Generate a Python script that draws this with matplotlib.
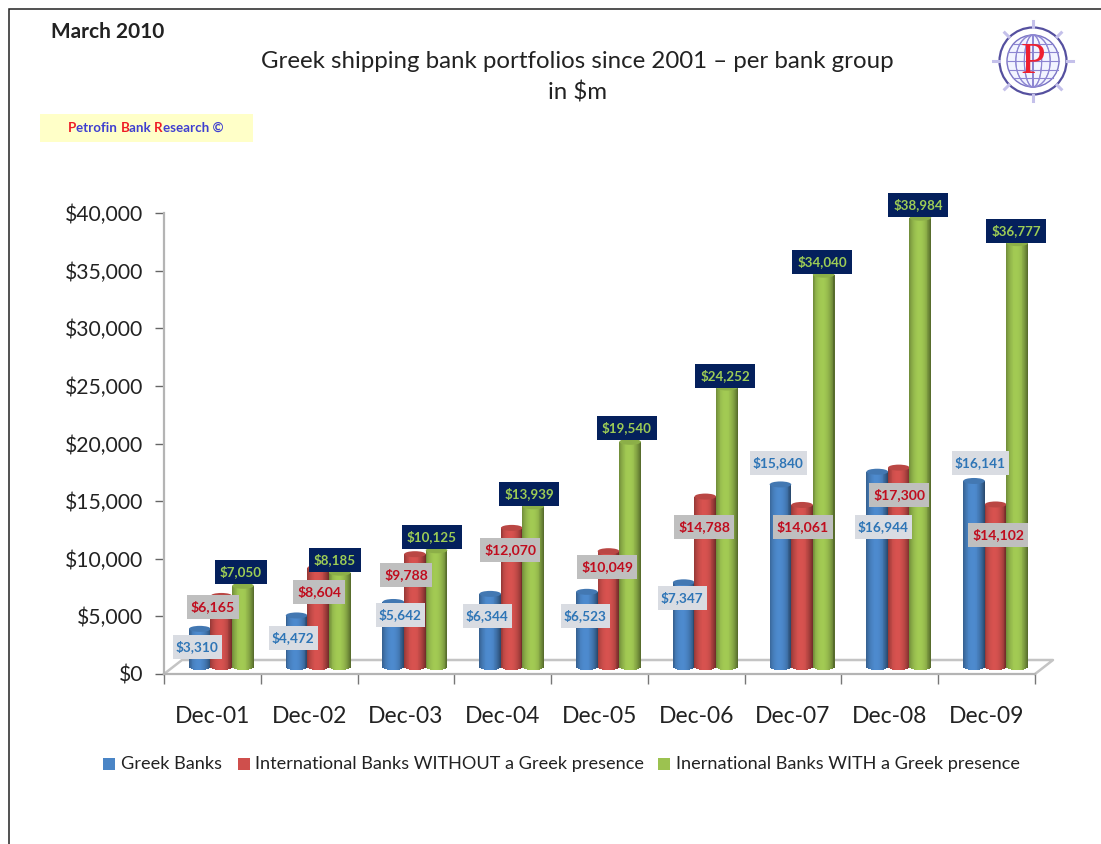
#!/usr/bin/env python3
import numpy as np
import matplotlib
matplotlib.use('Agg')
import matplotlib.pyplot as plt
from matplotlib.patches import Rectangle, Ellipse, Circle
from matplotlib.transforms import ScaledTranslation
from matplotlib.ticker import FuncFormatter
from matplotlib.colors import to_rgb

plt.rcParams['font.family'] = ['Lato', 'DejaVu Sans']

W, H = 1101, 844
DPI = 100

periods = ['Dec-01', 'Dec-02', 'Dec-03', 'Dec-04', 'Dec-05', 'Dec-06', 'Dec-07', 'Dec-08', 'Dec-09']
greek_banks = [3310, 4472, 5642, 6344, 6523, 7347, 15840, 16944, 16141]
intl_without = [6165, 8604, 9788, 12070, 10049, 14788, 14061, 17300, 14102]
intl_with = [7050, 8185, 10125, 13939, 19540, 24252, 34040, 38984, 36777]
y_ticks = [0, 5000, 10000, 15000, 20000, 25000, 30000, 35000, 40000]

# label centres in pixels, one list per series
greek_pos = [(197, 647), (293, 638), (400, 615), (487, 616), (585, 616),
             (682, 598), (778, 463), (883, 527), (980, 463)]
without_pos = [(213, 607), (319, 592), (406, 575), (510, 550), (607, 567),
               (704, 527), (803, 527), (899, 495), (998, 535)]
with_pos = [(241, 572), (335, 560), (432, 537), (529, 494), (627, 428),
            (725, 376), (822, 262), (918, 205), (1016, 231)]

BLUE, RED, GREEN = '#4a85c6', '#cf4f4c', '#9cc250'
GREY = '#b4b4b4'
TEXT = '#222222'


def make_layer(zorder):
    # full-figure axes measured in pixels, y pointing down
    layer = fig.add_axes([0, 0, 1, 1], zorder=zorder)
    layer.set_xlim(0, W)
    layer.set_ylim(H, 0)
    layer.axis('off')
    layer.patch.set_alpha(0)
    return layer


def draw_cylinder(ax, tr, xc, value, width, color, z):
    base = np.array(to_rgb(color))
    cap = 3 * 40000 / 461  # half height of the end ellipses in data units
    n = 24
    edges = np.linspace(-1, 1, n + 1)
    for u0, u1 in zip(edges[:-1], edges[1:]):
        u = (u0 + u1) / 2
        shade = base * (1.04 - 0.42 * abs(u + 0.1) ** 2.2)
        low = -cap * np.sqrt(1 - u ** 2)
        ax.bar(xc + u * width / 2, value - low, width / n * 1.3, bottom=low,
               color=np.clip(shade, 0, 1), linewidth=0, antialiased=False,
               transform=tr, zorder=z, clip_on=False)
    ax.add_patch(Ellipse((xc, value), width, cap * 2, facecolor=base * 0.9,
                         edgecolor='none', transform=tr, zorder=z + 0.1, clip_on=False))


def draw_label(layer, pos, value, extra_w, face, color, size):
    x, y = pos
    text = f'${value:,}'
    box_w = 8 * len(text) + extra_w
    layer.add_patch(Rectangle((x - box_w / 2, y - 12), box_w, 24, facecolor=face,
                              edgecolor='none', zorder=5))
    layer.text(x, y, text, color=color, fontsize=size, fontweight='bold',
               ha='center', va='center', zorder=6)


fig = plt.figure(figsize=(W / DPI, H / DPI), dpi=DPI, facecolor='white')
under = make_layer(0)
over = make_layer(3)

# page frame
over.plot([9, 9, W], [H, 9, 9], color='#222222', lw=1.1, solid_joinstyle='miter')

# floor of the chart
under.plot([164, 182, 1053, 1035], [674, 660, 660, 674], color='#c4c4c4', lw=1.8)

ax = fig.add_axes([164 / W, 1 - 674 / H, (1035 - 164) / W, (674 - 213) / H], zorder=1)
ax.patch.set_alpha(0)
offset = ScaledTranslation(9 / DPI, 7 / DPI, fig.dpi_scale_trans)
bar_tr = ax.transData + offset

bar_w = 21.6 / 96.8
for i in range(len(periods)):
    xc = i + 0.5
    for j, (vals, col) in enumerate(zip([greek_banks, intl_without, intl_with], [BLUE, RED, GREEN])):
        draw_cylinder(ax, bar_tr, xc + (j - 1) * bar_w, vals[i], bar_w, col, 3 + j)

ax.set_xlim(0, len(periods))
ax.set_ylim(0, 40000)
ax.set_yticks(y_ticks)
ax.yaxis.set_major_formatter(FuncFormatter(lambda v, p: f'${int(v):,}'))
ax.set_xticks(range(len(periods) + 1))
ax.set_xticklabels([])
ax.set_xticks(np.arange(len(periods)) + 0.5, minor=True)
ax.set_xticklabels(periods, minor=True)
ax.tick_params(axis='y', length=6.5, width=1, color='#666666', pad=8.5, labelsize=15.2, labelcolor=TEXT)
ax.tick_params(axis='x', which='major', length=7, width=1, color='#777777')
ax.tick_params(axis='x', which='minor', length=0, pad=23, labelsize=16.5, labelcolor=TEXT)
for side in ['top', 'right']:
    ax.spines[side].set_visible(False)
for side in ['left', 'bottom']:
    ax.spines[side].set_color(GREY)
    ax.spines[side].set_linewidth(1.6)

for i in range(len(periods)):
    draw_label(over, greek_pos[i], greek_banks[i], 1, '#d9dce2', '#2e75b6', 9.8)
    draw_label(over, without_pos[i], intl_without[i], 4, '#bfbfbf', '#c00d1e', 10.1)
    draw_label(over, with_pos[i], intl_with[i], 4, '#04205c', '#9dcc55', 9.6)

# heading
over.text(51, 32, 'March 2010', fontsize=15, fontweight='bold', color=TEXT, va='center')
over.text(577.5, 62, 'Greek shipping bank portfolios since 2001 \u2013 per bank group',
          fontsize=17.25, color=TEXT, ha='center', va='center')
over.text(578, 93, 'in $m', fontsize=17.25, color=TEXT, ha='center', va='center')

# research tag, coloured letter by letter
over.add_patch(Rectangle((40, 114), 213, 28, facecolor='#ffffc8', edgecolor='none'))
renderer = fig.canvas.get_renderer()
tag_parts = [('P', '#ee1c25'), ('etrofin ', '#3f3fd0'), ('B', '#ee1c25'), ('ank ', '#3f3fd0'),
             ('R', '#ee1c25'), ('esearch \u00a9', '#3f3fd0')]
cursor = 68
for part, col in tag_parts:
    t = over.text(cursor, 128, part.replace(' ', '\u00a0'), fontsize=9.6, fontweight='bold',
                  color=col, va='center')
    cursor = over.transData.inverted().transform(t.get_window_extent(renderer))[1, 0]

# globe logo
cx, cy = 1033, 61
for ang in np.arange(0, 360, 45):
    c, s = np.cos(np.radians(ang)), np.sin(np.radians(ang))
    over.plot([cx + 34 * c, cx + 40 * c], [cy + 34 * s, cy + 40 * s], color='#c4c0ea', lw=2.2)
over.add_patch(Circle((cx, cy), 33.5, facecolor='white', edgecolor='#55509f', lw=1.6))
over.add_patch(Circle((cx, cy), 26, facecolor='#f2f4ff', edgecolor='#7a74c4', lw=1))
for k in [-0.66, -0.33, 0, 0.33, 0.66]:
    half = 26 * np.sqrt(1 - k ** 2)
    over.plot([cx - half, cx + half], [cy + 26 * k, cy + 26 * k], color='#8d86d2', lw=0.8)
    over.add_patch(Ellipse((cx, cy), 52 * abs(k) + 0.1, 52, facecolor='none',
                           edgecolor='#8d86d2', lw=0.8))
over.text(cx, cy + 1, 'P', fontsize=32, color='#ee2030', family='Liberation Serif',
          ha='center', va='center', zorder=8)

# legend row
legend_items = [(103, 121, BLUE, 'Greek Banks'),
                (238, 255, RED, 'International Banks WITHOUT a Greek presence'),
                (658, 676, GREEN, 'Inernational Banks WITH a Greek presence')]
for sx, tx, col, name in legend_items:
    over.add_patch(Rectangle((sx, 758), 12, 12, facecolor=col, edgecolor='none'))
    over.text(tx, 764, name, fontsize=13.1, color=TEXT, va='center')

fig.savefig('out.png', dpi=DPI)
